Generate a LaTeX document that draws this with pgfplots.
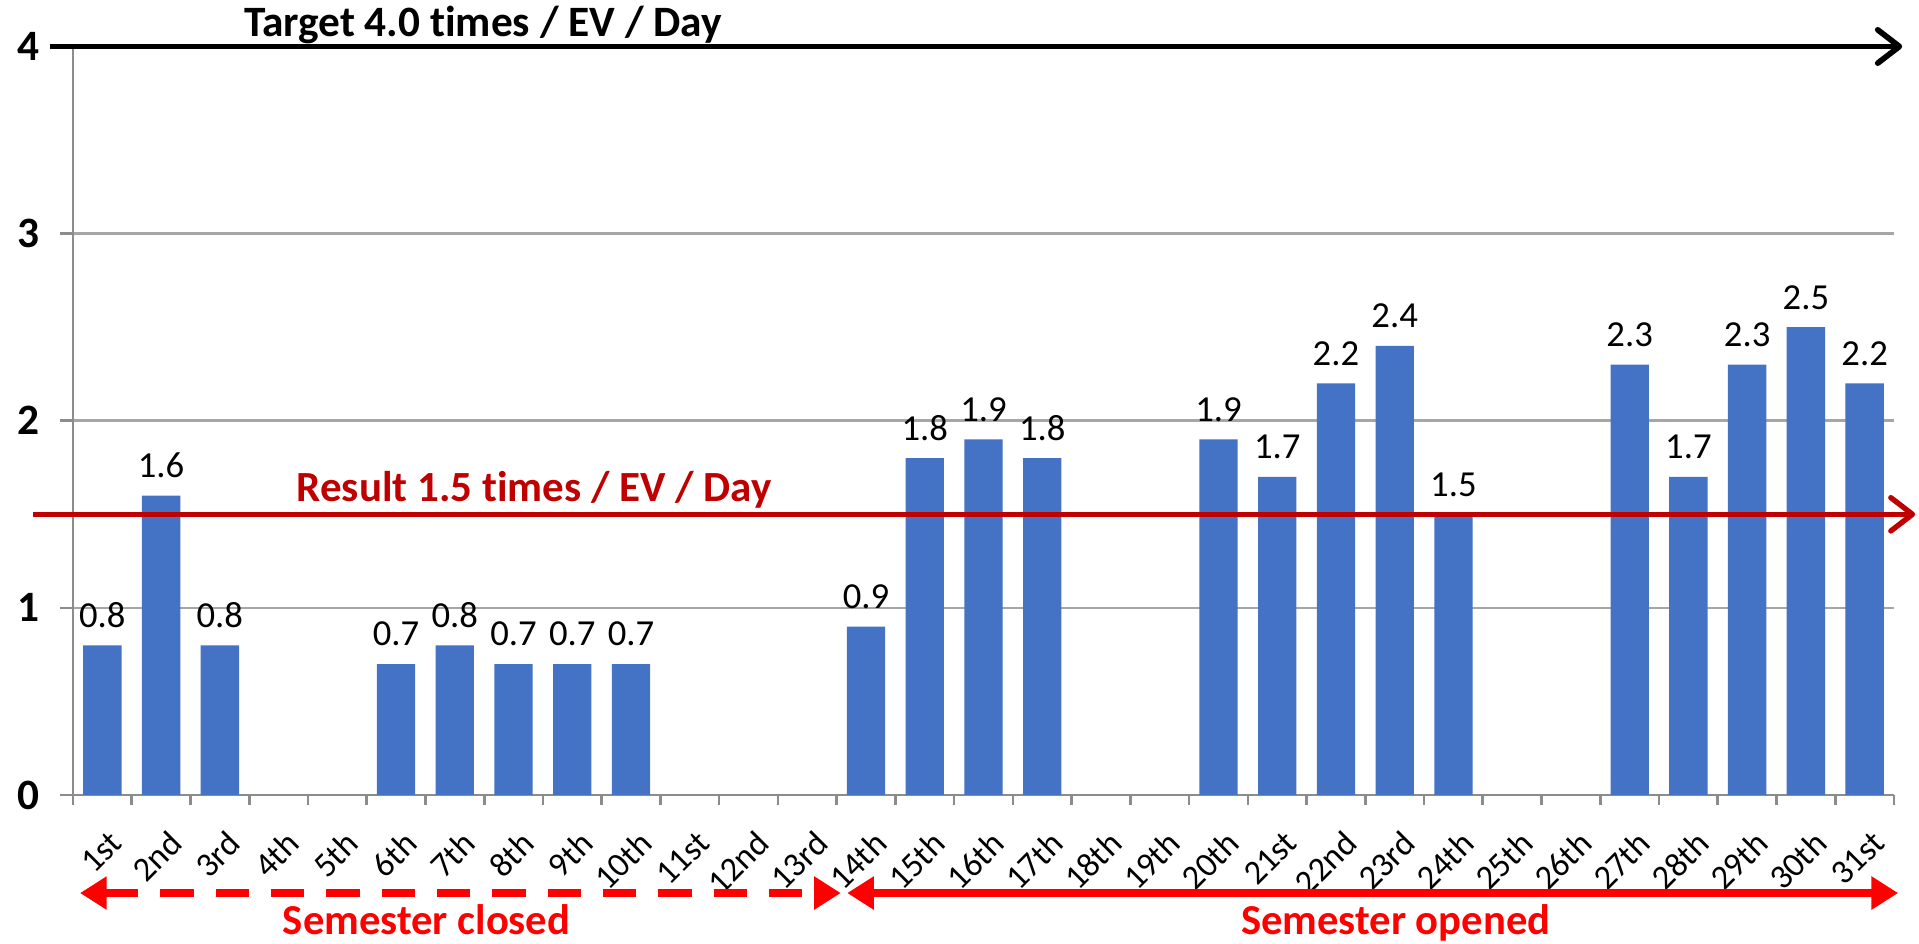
\documentclass[border=0pt]{standalone}
\usepackage{fontspec}
\setmainfont{Carlito}[Ligatures=NoCommon]
\usepackage{pgfplots}
\pgfplotsset{compat=1.18}
\usetikzlibrary{arrows.meta}
\definecolor{barblue}{HTML}{4472C4}
\definecolor{darkred}{HTML}{C00000}
\definecolor{brightred}{HTML}{FF0000}
\definecolor{axgray}{HTML}{8C8C8C}
\definecolor{gridgray}{HTML}{A6A6A6}
\begin{document}
\begin{tikzpicture}
\begin{axis}[
  name=ax, at={(0,0)}, anchor=south west,
  scale only axis, width=546.3pt, height=224.55pt,
  xmin=-0.5, xmax=30.5, ymin=0, ymax=4,
  clip=false,
  axis x line=bottom, axis y line=left,
  axis line style={-, draw=axgray, line width=0.8pt},
  ybar, bar width=11.5pt,
  xtick={0,...,30},
  xticklabels={1st,2nd,3rd,4th,5th,6th,7th,8th,9th,10th,11st,12nd,13rd,14th,15th,16th,17th,18th,19th,20th,21st,22nd,23rd,24th,25th,26th,27th,28th,29th,30th,31st},
  minor xtick={-0.5,0.5,...,30.5},
  tick align=outside,
  major tick length=4pt, minor tick length=3pt,
  major x tick style={draw=none},
  minor x tick style={draw=axgray, line width=0.8pt},
  ytick={0,1,2,3,4}, yticklabels={0,1,2,3,4},
  ytick style={draw=axgray, line width=0.8pt},
  ymajorgrids, major grid style={draw=gridgray, line width=0.8pt},
  xticklabel style={font=\fontsize{10.3}{12}\selectfont, xshift=1.8pt, yshift=-6pt, rotate=45, anchor=north east, inner sep=0pt},
  yticklabel style={font=\bfseries\fontsize{13}{15}\selectfont, anchor=center, inner sep=0pt, xshift=-9.5pt},
  nodes near coords={\pgfmathprintnumber[fixed,fixed zerofill,precision=1,assume math mode=true]{\pgfplotspointmeta}},
  nodes near coords style={font=\fontsize{11}{13}\selectfont, text=black, yshift=1.8pt},
]
\addplot[fill=barblue, draw=none] coordinates {
 (0,0.8) (1,1.6) (2,0.8) (5,0.7) (6,0.8) (7,0.7) (8,0.7) (9,0.7)
 (13,0.9) (14,1.8) (15,1.9) (16,1.8) (19,1.9) (20,1.7) (21,2.2) (22,2.4) (23,1.5)
 (26,2.3) (27,1.7) (28,2.3) (29,2.5) (30,2.2)
};
\draw[black, line width=1.7pt, -{Straight Barb[length=6.5pt,width=10pt,round]}] (axis cs:-0.89,4) -- (axis cs:30.64,4);
\node[anchor=base, font=\bfseries\fontsize{13}{15}\selectfont, yshift=3pt] at (axis cs:6.48,4) {Target 4.0 times / EV / Day};
\draw[darkred, line width=1.6pt, -{Straight Barb[length=6.5pt,width=10pt,round]}] (axis cs:-1.18,1.5) -- (axis cs:30.86,1.5);
\node[anchor=base, text=darkred, font=\bfseries\fontsize{12.9}{15}\selectfont, yshift=3.7pt] at (axis cs:7.35,1.5) {Result 1.5 times / EV / Day};
\draw[brightred, line width=2.2pt, dash pattern=on 10pt off 6.6pt, {Triangle[length=8pt,width=9.5pt]}-{Triangle[length=8pt,width=9.5pt]}] (axis cs:-0.38,-0.524) -- (axis cs:12.57,-0.524);
\draw[brightred, line width=2.2pt, {Triangle[length=8pt,width=9.5pt]}-{Triangle[length=8pt,width=9.5pt]}] (axis cs:12.68,-0.524) -- (axis cs:30.57,-0.524);
\node[anchor=base, text=brightred, font=\bfseries\fontsize{12.8}{15}\selectfont] at (axis cs:5.52,-0.743) {Semester closed};
\node[anchor=base, text=brightred, font=\bfseries\fontsize{12.8}{15}\selectfont] at (axis cs:22.02,-0.743) {Semester opened};
\end{axis}
\pgfresetboundingbox
\path[use as bounding box] (-21.9pt,-44.7pt) rectangle (553.8pt,238.5pt);
\end{tikzpicture}
\end{document}
